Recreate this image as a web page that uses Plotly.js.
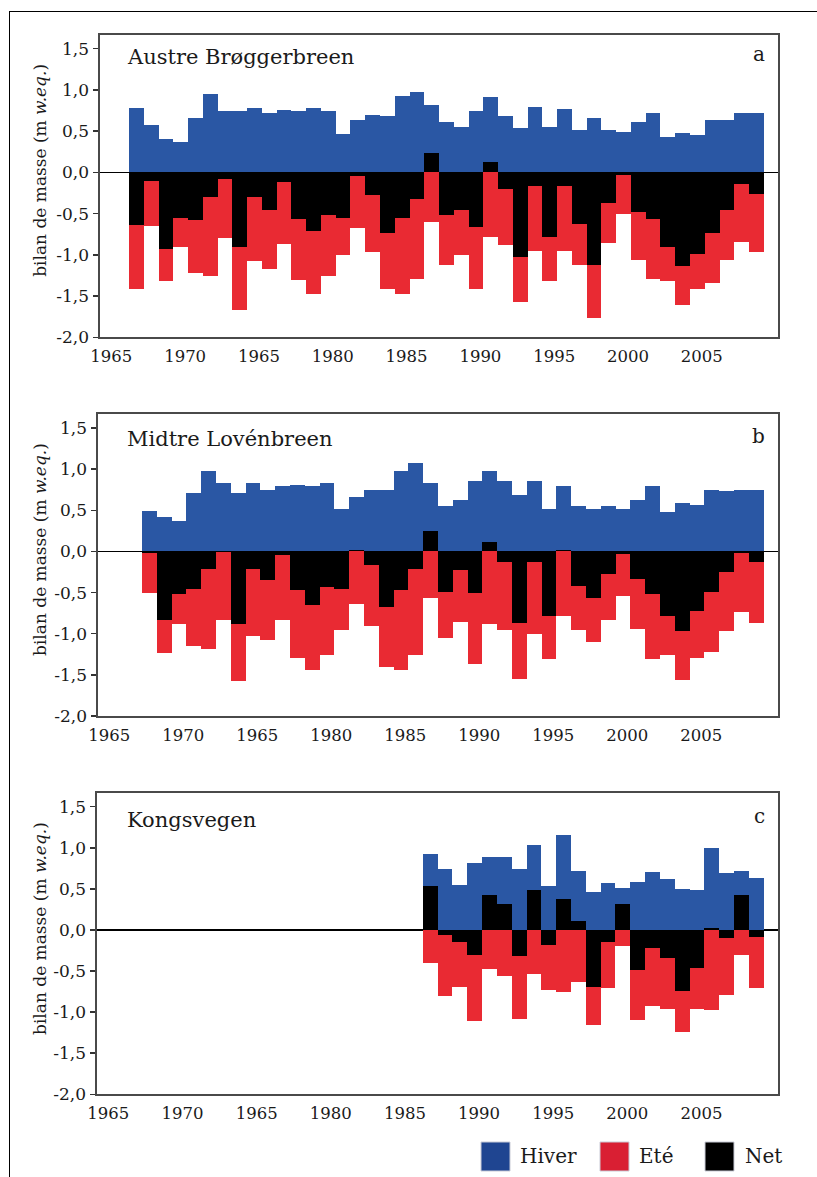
<!DOCTYPE html>
<html>
<head>
<meta charset="utf-8">
<script src="https://cdn.plot.ly/plotly-3.0.1.min.js"></script>
<style>
  html, body { margin: 0; padding: 0; background: #fff; }
  #wrap { position: relative; width: 817px; height: 1177px; overflow: hidden; }
  #chart { position: absolute; left: 0; top: 0; width: 817px; height: 1177px; }
  #frame { position: absolute; left: 9px; top: 11px; width: 820px; height: 1180px;
           border-top: 1px solid #000; border-left: 1px solid #000; pointer-events: none; }
</style>
</head>
<body>
<div id="wrap">
  <div id="chart"></div>
  <div id="frame"></div>
</div>
<script>
// ---------- Data (m w.eq.) ----------
const yearsA = [1967,1968,1969,1970,1971,1972,1973,1974,1975,1976,1977,1978,1979,1980,1981,1982,1983,1984,1985,1986,1987,1988,1989,1990,1991,1992,1993,1994,1995,1996,1997,1998,1999,2000,2001,2002,2003,2004,2005,2006,2007,2008,2009];
const winterA = [0.78,0.57,0.40,0.37,0.66,0.95,0.75,0.75,0.78,0.72,0.76,0.75,0.78,0.75,0.47,0.64,0.70,0.69,0.93,0.97,0.82,0.61,0.55,0.75,0.91,0.69,0.54,0.79,0.55,0.77,0.51,0.66,0.51,0.49,0.61,0.72,0.43,0.48,0.45,0.63,0.63,0.72,0.72];
const summerA = [-1.41,-0.65,-1.32,-0.90,-1.22,-1.26,-0.80,-1.67,-1.08,-1.17,-0.87,-1.31,-1.47,-1.26,-1.00,-0.68,-0.97,-1.41,-1.47,-1.29,-0.60,-1.12,-1.00,-1.41,-0.78,-0.88,-1.57,-0.95,-1.32,-0.95,-1.12,-1.76,-0.86,-0.50,-1.06,-1.29,-1.32,-1.61,-1.42,-1.34,-1.06,-0.85,-0.97];
const netA    = [-0.64,-0.10,-0.93,-0.55,-0.58,-0.30,-0.08,-0.91,-0.30,-0.46,-0.12,-0.56,-0.71,-0.52,-0.55,-0.04,-0.27,-0.73,-0.55,-0.32,0.23,-0.52,-0.46,-0.66,0.13,-0.20,-1.02,-0.17,-0.78,-0.17,-0.62,-1.12,-0.37,-0.03,-0.48,-0.56,-0.90,-1.14,-0.99,-0.73,-0.46,-0.14,-0.26];

const yearsB = [1968,1969,1970,1971,1972,1973,1974,1975,1976,1977,1978,1979,1980,1981,1982,1983,1984,1985,1986,1987,1988,1989,1990,1991,1992,1993,1994,1995,1996,1997,1998,1999,2000,2001,2002,2003,2004,2005,2006,2007,2008,2009];
const winterB = [0.49,0.42,0.37,0.71,0.98,0.83,0.71,0.83,0.75,0.79,0.81,0.79,0.83,0.51,0.66,0.75,0.75,0.98,1.07,0.83,0.55,0.63,0.86,0.98,0.85,0.68,0.86,0.52,0.79,0.55,0.52,0.55,0.51,0.63,0.79,0.475,0.59,0.57,0.75,0.73,0.75,0.75];
const summerB = [-0.50,-1.24,-0.88,-1.15,-1.18,-0.83,-1.58,-1.03,-1.08,-0.83,-1.29,-1.44,-1.26,-0.96,-0.64,-0.91,-1.41,-1.44,-1.26,-0.57,-1.05,-0.86,-1.37,-0.88,-0.96,-1.545,-1.00,-1.31,-0.78,-0.96,-1.10,-0.83,-0.54,-0.94,-1.31,-1.26,-1.56,-1.29,-1.22,-0.97,-0.74,-0.875];
const netB    = [-0.02,-0.83,-0.52,-0.46,-0.21,-0.01,-0.88,-0.21,-0.35,-0.04,-0.47,-0.65,-0.43,-0.46,0.02,-0.16,-0.68,-0.47,-0.21,0.25,-0.49,-0.23,-0.50,0.11,-0.13,-0.875,-0.13,-0.78,0.02,-0.42,-0.57,-0.27,-0.03,-0.34,-0.52,-0.78,-0.97,-0.73,-0.49,-0.25,-0.02,-0.13];

const yearsC = [1987,1988,1989,1990,1991,1992,1993,1994,1995,1996,1997,1998,1999,2000,2001,2002,2003,2004,2005,2006,2007,2008,2009];
const winterC = [0.93,0.74,0.55,0.815,0.89,0.89,0.74,1.03,0.54,1.15,0.72,0.46,0.57,0.51,0.585,0.71,0.62,0.50,0.485,1.00,0.69,0.72,0.63];
const summerC = [-0.40,-0.80,-0.70,-1.11,-0.48,-0.56,-1.08,-0.53,-0.73,-0.76,-0.63,-1.16,-0.71,-0.20,-1.09,-0.93,-0.96,-1.24,-0.96,-0.97,-0.79,-0.31,-0.71];
const netC    = [0.54,-0.06,-0.15,-0.30,0.43,0.32,-0.32,0.49,-0.18,0.38,0.11,-0.69,-0.15,0.32,-0.49,-0.22,-0.34,-0.74,-0.46,0.02,-0.10,0.42,-0.08];

const panelNames  = ["Austre Brøggerbreen", "Midtre Lovénbreen", "Kongsvegen"];
const panelLetters = ["a", "b", "c"];
const xTickText = ["1965","1970","1965","1980","1985","1990","1995","2000","2005"];
const xTickYears = [1965,1970,1975,1980,1985,1990,1995,2000,2005];
const yTickVals = [1.5,1.0,0.5,0.0,-0.5,-1.0,-1.5,-2.0];
const yTickText = ["1,5","1,0","0,5","0,0","-0,5","-1,0","-1,5","-2,0"];
const seriesNames = ["Hiver", "Eté", "Net"];

// ---------- Styling ----------
const W = 817, H = 1177;
const FONT = "DejaVu Serif";
const TXT = "#1a1a1a";
const C_BLUE = "#2A57A4", C_RED = "#E92A33", C_BLACK = "#000000";
const L_BLUE = "#1F4591", L_RED = "#D91F33";

const px = v => v / W;
const py = v => 1 - v / H;

// pixel geometry of each panel: [left, right, top, bottom]
const boxes = [
  [99.5, 778.3, 34.7, 337.3],
  [97.5, 778.0, 414.0, 716.0],
  [96.5, 778.3, 792.7, 1094.3]
];
const yTitleCenters = [170.8, 550, 929];
const nameCenters = [57.5, 439, 820];
const letterCenters = [54.5, 435.5, 816];

const datasets = [
  [yearsA, winterA, summerA, netA],
  [yearsB, winterB, summerB, netB],
  [yearsC, winterC, summerC, netC]
];

const traces = [];
const layout = {
  width: W, height: H,
  margin: {l: 0, r: 0, t: 0, b: 0},
  paper_bgcolor: "#fff", plot_bgcolor: "#fff",
  barmode: "overlay", bargap: 0,
  showlegend: false,
  font: {family: FONT, color: TXT, size: 15},
  annotations: [], shapes: []
};

datasets.forEach((d, i) => {
  const sfx = i === 0 ? "" : String(i + 1);
  const xa = "x" + sfx, ya = "y" + sfx;
  const [years, wv, sv, nv] = d;
  const cols = [C_BLUE, C_RED, C_BLACK];
  [wv, sv, nv].forEach((vals, k) => {
    traces.push({
      type: "bar", x: years, y: vals, xaxis: xa, yaxis: ya,
      name: seriesNames[k], width: 1,
      marker: {color: cols[k], line: {width: 0}},
      hoverinfo: "skip"
    });
  });
  const b = boxes[i];
  layout["xaxis" + sfx] = {
    domain: [px(b[0]), px(b[1])], anchor: ya,
    range: [1964.5, 2010.48],
    tickvals: xTickYears.map(v => v + 0.3), ticktext: xTickText,
    ticks: "outside", ticklen: 3, tickcolor: "rgba(0,0,0,0)",
    showgrid: false, zeroline: false,
    showline: true, mirror: true, linecolor: "#4a4a4a", linewidth: 2,
    tickfont: {family: FONT, size: 16.5, color: TXT},
    fixedrange: true
  };
  layout["yaxis" + sfx] = {
    domain: [py(b[3]), py(b[2])], anchor: xa,
    range: [-2.0, 1.67],
    tickvals: yTickVals, ticktext: yTickText,
    ticks: "outside", ticklen: 5, tickwidth: 1.5, tickcolor: "#333",
    showgrid: false,
    zeroline: true, zerolinecolor: "#000", zerolinewidth: 1.2,
    showline: true, mirror: true, linecolor: "#4a4a4a", linewidth: 2,
    tickfont: {family: FONT, size: 17, color: TXT},
    fixedrange: true
  };
  layout.annotations.push({
    xref: "paper", yref: "paper", x: px(40), y: py(yTitleCenters[i]),
    xanchor: "center", yanchor: "middle", textangle: -90, showarrow: false,
    text: "bilan de masse (m <i>w.eq.</i>)",
    font: {family: FONT, size: 17, color: TXT}
  });
  layout.annotations.push({
    xref: "paper", yref: "paper", x: px(125), y: py(nameCenters[i]),
    xanchor: "left", yanchor: "middle", showarrow: false,
    text: panelNames[i], font: {family: FONT, size: 21, color: TXT}
  });
  layout.annotations.push({
    xref: "paper", yref: "paper", x: px(767), y: py(letterCenters[i]),
    xanchor: "right", yanchor: "middle", showarrow: false,
    text: panelLetters[i], font: {family: FONT, size: 20, color: TXT}
  });
});

// ---------- Legend (swatches + labels) ----------
const legendItems = [
  {name: seriesNames[0], color: L_BLUE, sx: 481, tx: 518},
  {name: seriesNames[1], color: L_RED, sx: 600, tx: 637},
  {name: seriesNames[2], color: C_BLACK, sx: 705, tx: 743}
];
legendItems.forEach(it => {
  layout.shapes.push({
    type: "rect", xref: "paper", yref: "paper",
    x0: px(it.sx), x1: px(it.sx + 29), y0: py(1171), y1: py(1142),
    fillcolor: it.color, line: {color: "#c9cbd6", width: 1}
  });
  layout.annotations.push({
    xref: "paper", yref: "paper", x: px(it.tx), y: py(1156),
    xanchor: "left", yanchor: "middle", showarrow: false,
    text: it.name, font: {family: FONT, size: 20, color: TXT}
  });
});

Plotly.newPlot("chart", traces, layout, {staticPlot: true, displayModeBar: false});
</script>
</body>
</html>
